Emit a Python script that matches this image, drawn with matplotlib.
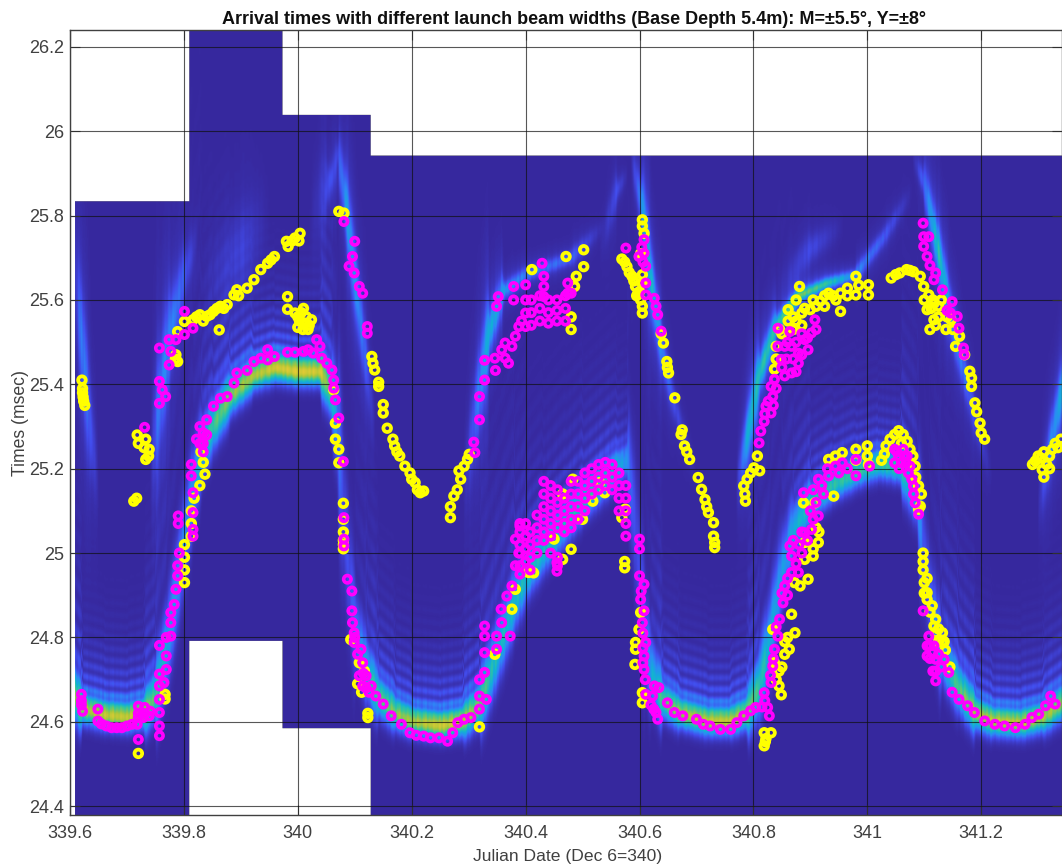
import numpy as np
import matplotlib
matplotlib.use("Agg")
import matplotlib.pyplot as plt
from matplotlib.colors import LinearSegmentedColormap

plt.rcParams['font.family'] = ['Liberation Sans', 'DejaVu Sans']

x_ticks = [339.6, 339.8, 340, 340.2, 340.4, 340.6, 340.8, 341, 341.2]
x_labels = ['339.6', '339.8', '340', '340.2', '340.4', '340.6', '340.8', '341', '341.2']
y_ticks = [24.4, 24.6, 24.8, 25, 25.2, 25.4, 25.6, 25.8, 26, 26.2]
y_labels = ['24.4', '24.6', '24.8', '25', '25.2', '25.4', '25.6', '25.8', '26', '26.2']

# data blocks of the image: start, end, lowest and highest time
block_x0 = [339.608, 339.808, 339.973, 340.127]
block_x1 = [339.808, 339.973, 340.127, 341.36]
block_lo = [24.30, 24.792, 24.583, 24.30]
block_hi = [25.835, 26.30, 26.04, 25.943]

# main arrival band
band_x = [339.60, 339.62, 339.66, 339.70, 339.73, 339.75, 339.77, 339.785, 339.80, 339.815,
          339.83, 339.85, 339.88, 339.92, 339.96, 340.00, 340.04, 340.06, 340.07, 340.08,
          340.09, 340.10, 340.12, 340.14, 340.17, 340.20, 340.25, 340.29, 340.32, 340.34,
          340.36, 340.38, 340.40, 340.43, 340.47, 340.50, 340.53, 340.56, 340.58, 340.59,
          340.60, 340.61, 340.62, 340.64, 340.67, 340.72, 340.76, 340.79, 340.81, 340.83,
          340.85, 340.87, 340.90, 340.94, 340.98, 341.02, 341.06, 341.09, 341.10, 341.11,
          341.13, 341.16, 341.19, 341.22, 341.27, 341.31, 341.35]
band_y = [24.68, 24.63, 24.615, 24.61, 24.62, 24.66, 24.78, 24.90, 25.03, 25.15,
          25.24, 25.30, 25.37, 25.42, 25.44, 25.43, 25.43, 25.38, 25.30, 25.10,
          24.95, 24.82, 24.72, 24.66, 24.62, 24.60, 24.59, 24.60, 24.64, 24.72,
          24.80, 24.88, 24.94, 25.00, 25.07, 25.12, 25.16, 25.20, 25.22, 25.10,
          24.95, 24.80, 24.72, 24.65, 24.62, 24.60, 24.60, 24.62, 24.68, 24.80,
          24.95, 25.05, 25.12, 25.16, 25.19, 25.21, 25.20, 25.12, 25.00, 24.90,
          24.76, 24.68, 24.62, 24.60, 24.595, 24.61, 24.65]
band_a = [0.55, 0.62, 0.66, 0.66, 0.64, 0.50, 0.34, 0.30, 0.25, 0.30,
          0.42, 0.50, 0.58, 0.62, 0.68, 0.70, 0.68, 0.50, 0.22, 0.12,
          0.12, 0.20, 0.40, 0.52, 0.58, 0.62, 0.68, 0.66, 0.56, 0.44,
          0.40, 0.40, 0.42, 0.42, 0.42, 0.44, 0.46, 0.40, 0.26, 0.12,
          0.12, 0.18, 0.34, 0.52, 0.62, 0.66, 0.66, 0.60, 0.48, 0.36,
          0.30, 0.36, 0.44, 0.46, 0.48, 0.48, 0.46, 0.30, 0.14, 0.16,
          0.36, 0.52, 0.62, 0.66, 0.66, 0.62, 0.58]

# fainter streaks above the main band: x, time, strength, width in pixels
streaks = [
    ([339.605, 339.62, 339.635, 339.65], [25.70, 25.50, 25.30, 25.15], [0.0, 0.20, 0.12, 0.0], 5),
    ([339.74, 339.755, 339.775, 339.80, 339.825], [25.20, 25.35, 25.52, 25.66, 25.75], [0.0, 0.18, 0.20, 0.12, 0.0], 7),
    ([339.83, 339.90, 339.95], [25.62, 25.72, 25.80], [0.0, 0.07, 0.0], 24),
    ([340.04, 340.07, 340.085, 340.10, 340.115, 340.135], [25.80, 25.95, 25.82, 25.65, 25.50, 25.30], [0.0, 0.08, 0.26, 0.24, 0.16, 0.0], 4),
    ([340.02, 340.05, 340.08], [25.78, 25.88, 25.90], [0.0, 0.07, 0.0], 14),
    ([340.29, 340.32, 340.335, 340.36, 340.40, 340.48, 340.54], [25.15, 25.40, 25.52, 25.62, 25.66, 25.70, 25.78], [0.0, 0.20, 0.30, 0.24, 0.18, 0.14, 0.0], 6),
    ([340.53, 340.56, 340.58], [25.72, 25.86, 25.90], [0.0, 0.10, 0.0], 5),
    ([340.585, 340.605, 340.62, 340.64, 340.66, 340.70], [25.94, 25.82, 25.65, 25.48, 25.36, 25.18], [0.0, 0.24, 0.34, 0.20, 0.10, 0.0], 4),
    ([340.77, 340.79, 340.81, 340.84, 340.88, 340.93, 340.98, 341.03, 341.08], [25.15, 25.28, 25.42, 25.54, 25.61, 25.64, 25.66, 25.75, 25.86], [0.0, 0.30, 0.36, 0.36, 0.46, 0.38, 0.20, 0.12, 0.0], 5),
    ([340.84, 340.90, 340.96], [25.62, 25.72, 25.78], [0.0, 0.09, 0.0], 10),
    ([341.08, 341.10, 341.125, 341.145, 341.165, 341.19, 341.22], [25.94, 25.88, 25.72, 25.58, 25.46, 25.32, 25.18], [0.0, 0.14, 0.36, 0.26, 0.18, 0.10, 0.0], 4.5),
    ([341.30, 341.32, 341.345, 341.36], [25.10, 25.24, 25.40, 25.50], [0.0, 0.18, 0.30, 0.30], 5),
]

# slight column to column variation of the image
column_shade = [1.0, 0.92, 1.06, 0.88, 1.1, 0.97, 0.85, 1.04, 1.12, 0.9, 1.0, 0.94, 1.08]

yellow_pts = [
    (339.621, 25.41), (339.622, 25.39), (339.622, 25.38), (339.623, 25.37), (339.624, 25.36), (339.626, 25.35),
    (339.718, 25.28), (339.72, 25.26), (339.73, 25.25), (339.733, 25.27), (339.739, 25.246), (339.738, 25.23), (339.733, 25.222),
    (339.712, 25.123), (339.717, 25.13), (339.801, 25.549), (339.789, 25.525), (339.789, 25.454), (339.785, 25.46),
    (339.816, 25.553), (339.822, 25.56), (339.828, 25.565), (339.834, 25.55), (339.84, 25.561), (339.846, 25.565), (339.852, 25.573),
    (339.858, 25.58), (339.864, 25.585), (339.87, 25.58), (339.876, 25.589), (339.888, 25.612), (339.893, 25.624), (339.896, 25.61),
    (339.911, 25.628), (339.923, 25.648), (339.935, 25.672), (339.947, 25.687), (339.953, 25.695), (339.959, 25.703),
    (339.98, 25.739), (339.983, 25.727), (339.99, 25.74), (339.995, 25.747), (340.004, 25.758), (340.002, 25.74), (339.862, 25.529),
    (339.982, 25.608), (339.982, 25.578), (339.995, 25.569), (340.006, 25.57), (340.012, 25.545), (340.018, 25.53), (340.009, 25.53),
    (340.024, 25.553), (340.003, 25.55), (340.015, 25.56), (340.072, 25.81), (340.081, 25.806),
    (340.063, 25.387), (340.066, 25.308), (340.066, 25.27), (340.072, 25.246), (340.072, 25.214), (340.08, 25.118),
    (340.08, 25.08), (340.08, 25.05), (340.08, 25.03), (340.08, 25.02), (340.08, 25.01), (340.093, 24.795),
    (340.108, 24.74), (340.105, 24.69), (340.123, 24.62), (340.123, 24.61), (340.117, 24.72), (340.112, 24.67),
    (340.13, 25.466), (340.132, 25.45), (340.135, 25.434), (340.142, 25.405), (340.142, 25.395), (340.15, 25.352), (340.15, 25.332), (340.157, 25.296),
    (340.167, 25.27), (340.17, 25.254), (340.174, 25.24), (340.179, 25.23), (340.188, 25.206), (340.197, 25.19), (340.2, 25.175),
    (340.206, 25.167), (340.21, 25.15), (340.215, 25.143), (340.221, 25.147),
    (340.268, 25.084), (340.268, 25.11), (340.274, 25.135), (340.28, 25.15), (340.286, 25.175), (340.283, 25.195), (340.292, 25.206),
    (340.298, 25.222), (340.301, 25.234), (339.813, 25.1), (339.813, 25.07), (339.813, 25.04), (339.801, 25.02), (339.801, 24.99),
    (339.801, 24.96), (339.801, 24.93), (339.837, 25.187), (339.828, 25.16), (339.834, 25.215), (339.818, 25.13), (339.83, 25.24),
    (339.767, 24.654), (339.767, 24.665), (340.319, 24.588), (340.346, 24.76), (339.72, 24.525), (340.376, 24.867), (340.382, 24.914), (340.405, 24.954),
    (340.411, 25.672), (340.48, 25.56), (340.48, 25.53), (340.471, 25.703), (340.502, 25.719), (340.502, 25.679), (340.489, 25.656), (340.486, 25.632),
    (340.569, 25.697), (340.574, 25.69), (340.578, 25.679), (340.582, 25.665), (340.587, 25.656), (340.593, 25.632), (340.597, 25.615), (340.602, 25.6),
    (340.605, 25.569), (340.605, 25.585), (340.605, 25.79), (340.605, 25.775), (340.608, 25.758), (340.602, 25.71), (340.605, 25.66),
    (340.638, 25.52), (340.642, 25.498), (340.648, 25.454), (340.649, 25.44), (340.651, 25.427), (340.662, 25.368), (340.675, 25.292),
    (340.673, 25.281), (340.679, 25.254), (340.683, 25.24), (340.688, 25.222), (340.703, 25.179), (340.709, 25.151), (340.715, 25.127),
    (340.718, 25.11), (340.721, 25.096), (340.73, 25.072), (340.73, 25.04), (340.732, 25.013), (340.732, 25.025),
    (340.786, 25.123), (340.783, 25.159), (340.789, 25.175), (340.785, 25.14), (340.801, 25.202), (340.807, 25.23), (340.811, 25.195), (340.795, 25.19),
    (340.84, 25.49), (340.846, 25.53), (340.861, 25.577), (340.885, 25.569), (340.885, 25.54), (340.9, 25.577), (340.917, 25.597), (340.932, 25.616),
    (340.953, 25.616), (340.953, 25.573), (340.965, 25.628), (340.98, 25.656), (340.98, 25.612), (341.002, 25.636), (341.002, 25.612), (340.881, 25.632),
    (340.861, 25.55), (340.87, 25.53), (340.837, 25.436), (340.84, 25.46), (340.91, 25.585), (340.925, 25.61), (340.94, 25.61), (340.875, 25.55),
    (341.042, 25.652), (341.05, 25.66), (341.057, 25.664), (341.069, 25.672), (341.075, 25.67), (341.081, 25.667), (341.093, 25.656), (341.099, 25.632),
    (341.108, 25.612), (341.117, 25.592), (341.105, 25.577), (341.117, 25.553), (341.112, 25.58), (341.125, 25.585), (341.138, 25.53), (341.147, 25.553), (341.162, 25.514),
    (341.171, 25.47), (341.18, 25.431), (341.183, 25.415), (341.183, 25.395), (341.189, 25.356), (341.192, 25.335), (341.198, 25.308), (341.2, 25.285), (341.206, 25.27),
    (341.295, 25.218), (341.307, 25.198), (341.305, 25.225), (341.32, 25.23), (341.325, 25.246), (341.315, 25.21), (341.3, 25.23), (341.33, 25.26),
    (341.048, 25.281), (341.063, 25.281), (341.055, 25.29), (341.075, 25.246), (341.084, 25.206), (341.09, 25.159), (341.093, 25.111), (341.033, 25.254), (341.04, 25.27),
    (340.932, 25.222), (340.944, 25.23), (340.956, 25.238), (340.98, 25.246), (341.0, 25.254), (341.0, 25.23), (340.98, 25.22), (341.002, 25.21),
    (340.888, 25.119), (340.908, 25.119), (340.941, 25.135), (340.905, 24.993), (340.896, 24.938), (340.882, 24.922), (340.867, 24.855),
    (340.873, 24.811), (340.863, 24.772), (340.855, 24.76), (340.845, 24.685), (340.849, 24.664), (340.837, 24.74), (340.834, 24.819), (340.89, 25.025), (340.914, 25.025),
    (340.905, 25.01), (340.819, 24.574), (340.831, 24.574), (340.819, 24.543), (340.822, 24.56), (340.821, 24.553),
    (341.098, 25.0), (341.098, 24.98), (341.098, 24.96), (341.1, 24.93), (341.105, 24.906), (341.114, 24.875), (341.12, 24.843), (341.132, 24.811), (341.132, 24.788),
    (341.117, 24.827), (341.137, 24.77), (341.145, 24.73), (340.602, 24.859), (340.599, 24.819), (340.593, 24.788), (340.593, 24.772), (340.592, 24.736),
    (340.605, 24.669), (340.605, 24.645), (340.574, 24.98), (340.574, 24.965), (340.45, 25.033), (340.48, 25.009), (340.465, 24.985), (340.414, 24.953),
    (340.518, 25.123), (340.539, 25.143), (340.5, 25.08), (340.569, 25.084), (340.575, 25.104), (340.53, 25.167), (340.483, 25.175), (340.465, 25.14), (341.09, 25.104),
    # fill of the dense parts
    (339.786, 25.47), (340.0, 25.56), (340.01, 25.58), (340.02, 25.54), (340.0, 25.535), (340.59, 25.645), (340.595, 25.61), (340.6, 25.62), (340.605, 25.64),
    (340.85, 25.52), (340.87, 25.56), (340.89, 25.58), (340.905, 25.6), (340.925, 25.585), (340.945, 25.6), (340.965, 25.61), (340.985, 25.635), (340.875, 25.6),
    (341.115, 25.6), (341.125, 25.56), (341.11, 25.53), (341.12, 25.54), (341.13, 25.6), (341.14, 25.56), (341.15, 25.53), (341.1, 25.6), (341.155, 25.49),
    (341.06, 25.26), (341.07, 25.265), (341.08, 25.23), (341.085, 25.18), (341.095, 25.14), (341.03, 25.235), (341.025, 25.22),
    (341.105, 24.89), (341.11, 24.86), (341.125, 24.82), (341.12, 24.81), (341.125, 24.79), (341.105, 24.94), (341.1, 24.905), (341.135, 24.79),
    (340.872, 24.93), (340.86, 24.8), (340.855, 24.79), (340.845, 24.72), (340.84, 24.7), (340.85, 24.73), (340.89, 24.985), (340.91, 25.06), (340.915, 25.05),
    (341.31, 25.18), (341.29, 25.21), (341.31, 25.24), (341.32, 25.2), (341.335, 25.25), (341.34, 25.27),
]

magenta_pts = [
    (339.62, 24.665), (339.62, 24.65), (339.62, 24.64), (339.622, 24.625), (339.649, 24.63), (339.649, 24.602), (339.655, 24.595), (339.664, 24.59),
    (339.673, 24.586), (339.682, 24.586), (339.691, 24.586), (339.7, 24.59), (339.709, 24.594), (339.718, 24.594), (339.72, 24.558), (339.72, 24.637),
    (339.72, 24.62), (339.72, 24.61), (339.729, 24.62), (339.739, 24.614), (339.729, 24.61), (339.741, 24.625), (339.731, 24.634),
    (339.757, 24.567), (339.757, 24.59), (339.757, 24.622), (339.757, 24.653), (339.757, 24.685), (339.757, 24.713), (339.757, 24.781), (339.765, 24.693),
    (339.769, 24.724), (339.769, 24.756), (339.769, 24.8), (339.777, 24.803), (339.777, 24.835), (339.777, 24.859), (339.783, 24.878), (339.786, 24.914),
    (339.789, 24.946), (339.789, 24.97), (339.792, 25.0), (339.79, 25.088), (339.79, 25.07), (339.816, 25.096), (339.816, 25.056), (339.816, 25.04), (339.816, 25.143),
    (339.813, 25.183), (339.813, 25.21), (339.834, 25.285), (339.834, 25.26), (339.834, 25.24), (339.828, 25.26), (339.84, 25.28), (339.822, 25.27),
    (339.731, 25.298), (339.757, 25.407), (339.762, 25.387), (339.768, 25.371), (339.757, 25.355), (339.757, 25.486), (339.777, 25.478), (339.774, 25.506),
    (339.786, 25.506), (339.774, 25.446), (339.801, 25.573), (339.816, 25.533), (339.801, 25.518),
    (339.828, 25.3), (339.84, 25.316), (339.852, 25.348), (339.864, 25.367), (339.876, 25.371), (339.888, 25.403), (339.893, 25.427), (339.911, 25.433),
    (339.923, 25.454), (339.935, 25.462), (339.947, 25.482), (339.947, 25.458), (339.959, 25.466), (339.982, 25.476), (339.995, 25.476), (340.01, 25.478),
    (340.018, 25.482), (340.027, 25.474), (340.033, 25.506), (340.039, 25.49), (340.042, 25.462), (340.051, 25.45), (340.06, 25.434), (340.063, 25.41),
    (340.063, 25.391), (340.066, 25.363), (340.072, 25.32), (340.08, 25.217), (340.081, 25.084), (340.081, 25.033), (340.081, 25.017),
    (340.087, 24.938), (340.095, 24.91), (340.095, 24.863), (340.096, 24.835), (340.099, 24.811), (340.099, 24.788), (340.111, 24.772), (340.114, 24.74),
    (340.108, 24.709), (340.12, 24.709), (340.114, 24.685), (340.129, 24.685), (340.137, 24.661), (340.15, 24.642), (340.164, 24.614), (340.182, 24.594),
    (340.197, 24.574), (340.208, 24.568), (340.221, 24.566), (340.233, 24.562), (340.248, 24.562), (340.263, 24.554), (340.272, 24.574), (340.281, 24.598),
    (340.292, 24.606), (340.304, 24.61), (340.319, 24.63), (340.319, 24.661), (340.319, 24.7), (340.328, 24.717), (340.331, 24.653), (340.328, 24.764),
    (340.328, 24.803), (340.328, 24.827), (340.349, 24.772), (340.349, 24.803), (340.358, 24.835), (340.357, 24.867), (340.367, 24.898), (340.373, 24.803),
    (340.376, 24.922), (340.382, 24.97), (340.388, 25.0), (340.382, 25.033), (340.39, 25.064),
    (340.081, 25.786), (340.1, 25.739), (340.096, 25.703), (340.09, 25.68), (340.099, 25.664), (340.108, 25.632), (340.114, 25.616), (340.122, 25.537), (340.122, 25.521),
    (340.309, 25.263), (340.311, 25.238), (340.319, 25.371), (340.319, 25.316), (340.328, 25.41), (340.328, 25.457), (340.347, 25.433), (340.352, 25.608), (340.349, 25.585),
    (340.379, 25.632), (340.4, 25.636), (340.379, 25.6), (340.4, 25.6), (340.4, 25.569), (340.4, 25.537), (340.358, 25.482), (340.346, 25.462), (340.364, 25.498),
    (340.37, 25.45), (340.376, 25.49), (340.382, 25.514), (340.388, 25.537), (340.364, 25.462), (340.393, 25.55),
    (340.41, 25.6), (340.41, 25.57), (340.41, 25.54), (340.425, 25.61), (340.425, 25.58), (340.425, 25.55), (340.44, 25.6), (340.44, 25.57), (340.44, 25.545),
    (340.455, 25.6), (340.455, 25.575), (340.455, 25.55), (340.47, 25.61), (340.47, 25.58), (340.47, 25.55),
    (340.429, 25.687), (340.432, 25.656), (340.432, 25.632), (340.432, 25.608), (340.474, 25.64), (340.474, 25.616), (340.48, 25.616),
    (340.39, 25.07), (340.39, 25.05), (340.39, 25.02), (340.39, 25.0), (340.39, 24.97), (340.39, 24.95), (340.4, 25.07), (340.4, 25.04), (340.4, 25.01), (340.4, 24.98),
    (340.408, 25.05), (340.408, 25.02), (340.408, 24.99), (340.408, 24.96), (340.42, 25.09), (340.42, 25.06), (340.42, 25.03), (340.42, 25.0),
    (340.432, 25.17), (340.432, 25.14), (340.432, 25.11), (340.432, 25.08), (340.432, 25.05), (340.432, 25.03), (340.444, 25.16), (340.444, 25.13),
    (340.444, 25.1), (340.444, 25.07), (340.444, 25.04), (340.444, 25.0), (340.456, 25.15), (340.456, 25.12), (340.456, 25.09), (340.456, 25.06),
    (340.456, 24.99), (340.456, 24.97), (340.468, 25.13), (340.468, 25.1), (340.468, 25.07), (340.468, 25.05), (340.48, 25.17), (340.48, 25.14),
    (340.48, 25.11), (340.48, 25.08), (340.48, 25.06), (340.492, 25.17), (340.492, 25.14), (340.492, 25.11), (340.492, 25.08), (340.504, 25.19),
    (340.504, 25.16), (340.504, 25.13), (340.504, 25.1), (340.516, 25.2), (340.516, 25.17), (340.516, 25.14), (340.528, 25.21), (340.528, 25.18),
    (340.528, 25.15), (340.54, 25.215), (340.54, 25.19), (340.54, 25.16), (340.552, 25.21), (340.552, 25.18), (340.552, 25.15), (340.564, 25.19),
    (340.564, 25.16), (340.564, 25.13), (340.564, 25.1), (340.576, 25.16), (340.576, 25.13), (340.576, 25.1), (340.576, 25.07), (340.576, 25.04),
    (340.576, 25.723), (340.599, 25.703), (340.608, 25.743), (340.608, 25.711), (340.611, 25.68), (340.611, 25.64), (340.611, 25.612), (340.626, 25.604),
    (340.629, 25.585), (340.632, 25.565), (340.638, 25.526), (340.604, 25.725), (340.606, 25.69),
    (340.837, 25.412), (340.843, 25.533), (340.843, 25.49), (340.849, 25.459), (340.864, 25.525), (340.867, 25.49), (340.867, 25.427), (340.879, 25.474),
    (340.879, 25.45), (340.89, 25.506), (340.896, 25.482), (340.902, 25.522), (340.908, 25.553), (340.855, 25.49), (340.858, 25.46), (340.885, 25.52), (340.87, 25.46),
    (340.831, 25.395), (340.834, 25.371), (340.822, 25.348), (340.831, 25.332), (340.819, 25.312), (340.813, 25.289), (340.81, 25.261), (340.826, 25.36),
    (341.098, 25.782), (341.099, 25.75), (341.108, 25.75), (341.099, 25.727), (341.105, 25.703), (341.11, 25.682), (341.12, 25.664), (341.117, 25.648),
    (341.132, 25.624), (341.149, 25.596), (341.146, 25.569), (341.158, 25.561), (341.161, 25.533), (341.169, 25.486), (341.17, 25.47), (341.14, 25.575),
    (340.455, 24.977), (340.455, 24.957), (340.6, 25.033), (340.6, 24.946), (340.608, 24.926), (340.602, 24.89), (340.608, 24.863), (340.605, 24.835),
    (340.611, 24.788), (340.608, 24.756), (340.608, 24.724), (340.611, 24.665), (340.61, 24.7), (340.626, 24.685), (340.634, 24.681), (340.623, 24.661),
    (340.629, 24.622), (340.632, 24.606), (340.649, 24.645), (340.661, 24.622), (340.676, 24.614), (340.7, 24.606), (340.712, 24.594), (340.724, 24.59),
    (340.742, 24.582), (340.76, 24.582), (340.771, 24.598), (340.783, 24.614), (340.795, 24.626), (340.804, 24.634), (340.825, 24.634), (340.828, 24.614),
    (340.819, 24.669), (340.831, 24.693), (340.834, 24.732), (340.837, 24.772), (340.843, 24.803), (340.846, 24.843), (340.852, 24.882), (340.855, 24.922),
    (340.867, 24.954), (340.879, 24.954), (340.867, 24.993), (340.864, 25.017), (340.885, 25.0), (340.89, 25.048), (340.902, 25.056), (340.914, 25.088),
    (340.923, 25.14), (340.914, 25.175), (340.932, 25.183), (340.944, 25.206), (340.956, 25.214), (340.98, 25.222), (340.98, 25.183), (341.004, 25.206),
    (340.888, 25.143), (340.9, 25.1), (340.885, 25.05), (340.87, 25.03), (340.905, 25.15),
    (341.048, 25.246), (341.063, 25.246), (341.048, 25.214), (341.06, 25.214), (341.068, 25.214), (341.075, 25.206), (341.081, 25.159), (341.084, 25.119),
    (341.09, 25.092), (341.081, 25.14), (341.055, 25.23), (341.098, 24.863), (341.108, 24.803), (341.105, 24.78), (341.105, 24.756), (341.117, 24.78),
    (341.12, 24.748), (341.12, 24.697), (341.12, 24.72), (341.135, 24.748), (341.143, 24.717), (341.149, 24.67), (341.161, 24.653), (341.176, 24.638), (341.188, 24.622),
    (341.206, 24.602), (341.224, 24.594), (341.241, 24.59), (341.26, 24.586), (341.277, 24.594), (341.289, 24.61), (341.301, 24.618), (341.313, 24.638),
    (341.322, 24.661), (341.33, 24.642),
    # fill of the dense parts
    (340.85, 25.44), (340.86, 25.5), (340.875, 25.5), (340.885, 25.47), (340.855, 25.42), (340.875, 25.43), (340.895, 25.51), (340.91, 25.53),
    (340.84, 25.39), (340.82, 25.33), (340.835, 25.35),
    (340.6, 25.01), (340.603, 24.91), (340.606, 24.81), (340.606, 24.775), (340.606, 24.74), (340.62, 24.64), (340.625, 24.63),
    (340.86, 24.9), (340.86, 24.94), (340.875, 24.975), (340.85, 24.905), (340.84, 24.825), (340.835, 24.75), (340.83, 24.71), (340.82, 24.65), (340.815, 24.635),
    (340.88, 25.02), (340.895, 25.03), (340.905, 25.08), (340.91, 25.12), (340.92, 25.16), (340.93, 25.2), (340.95, 25.19), (340.965, 25.2),
    (340.1, 24.8), (340.105, 24.76), (340.115, 24.715), (340.125, 24.67), (340.12, 24.68),
    (341.11, 24.78), (341.11, 24.75), (341.115, 24.765), (341.125, 24.76), (341.13, 24.73), (341.115, 24.72),
    (341.052, 25.24), (341.056, 25.2), (341.065, 25.23), (341.072, 25.19), (341.07, 25.23), (341.078, 25.175),
]

parula = LinearSegmentedColormap.from_list('parula', [
    (0.215, 0.16, 0.62), (0.26, 0.30, 0.93), (0.18, 0.53, 0.97), (0.07, 0.69, 0.84),
    (0.22, 0.78, 0.59), (0.67, 0.78, 0.22), (0.98, 0.80, 0.20), (0.96, 0.88, 0.12), (0.98, 0.98, 0.08)])

PX_X = 569.5  # pixels per day
PX_Y = 422.0  # pixels per msec


def perp_dist(xs, ys, xg, Yg):
    c = np.interp(xg, xs, ys)
    slope = np.gradient(c, xg) * PX_Y / PX_X
    return (Yg - c) * PX_Y / np.sqrt(1 + slope ** 2), slope


def band_layer(xg, Yg):
    d, slope = perp_dist(band_x, band_y, xg, Yg)
    a = np.interp(xg, band_x, band_a)
    flat = 1 / (1 + (slope / 3.0) ** 2)
    w = 5 + 8 * flat
    core = np.exp(-(d / w) ** 2)
    env = (1 - np.exp(-(d / 14.0) ** 2)) * np.exp(-d / 30.0) * (d > 0) * flat
    fringe = 0.5 + 0.5 * np.cos(2 * np.pi * (d - 21) / 11.5)
    return a * (core + 0.6 * env * (0.3 + 0.7 * fringe))


def streak_layer(xs, ys, amps, width, xg, Yg):
    d, slope = perp_dist(xs, ys, xg, Yg)
    a = np.interp(xg, xs, amps, left=0, right=0)
    return a * (np.exp(-(d / width) ** 2) + 0.25 * np.exp(-(d / (width * 2.5)) ** 2))


xg = np.linspace(339.60, 341.36, 1000)
yg = np.linspace(24.30, 26.30, 850)
Xg, Yg = np.meshgrid(xg, yg)

Z = band_layer(xg, Yg)
for xs, ys, amps, width in streaks:
    Z = Z + streak_layer(xs, ys, amps, width, xg, Yg)
shade = np.array(column_shade)[np.arange(len(xg)) // 2 % len(column_shade)]
Z = Z * (1 + (shade - 1) * np.clip(1.3 - 1.5 * Z, 0, 1))

inside = np.zeros(Z.shape, dtype=bool)
for x0, x1, lo, hi in zip(block_x0, block_x1, block_lo, block_hi):
    inside |= (Xg >= x0) & (Xg < x1) & (Yg >= lo) & (Yg <= hi)
Z = np.where(inside, Z, np.nan)

fig = plt.figure(figsize=(10.62, 8.67), dpi=100)
ax = fig.add_axes([70 / 1062, (867 - 815) / 867, 992 / 1062, 785 / 867])

ax.imshow(Z, extent=[xg[0], xg[-1], yg[0], yg[-1]], origin='lower', aspect='auto',
          cmap=parula, vmin=0, vmax=1, interpolation='bilinear', zorder=1)

yellow = np.array(yellow_pts)
magenta = np.array(magenta_pts)
ax.scatter(yellow[:, 0], yellow[:, 1], s=30, facecolors='none', edgecolors='#ffff00', linewidths=2.7, zorder=3)
ax.scatter(magenta[:, 0], magenta[:, 1], s=28, facecolors='none', edgecolors='#ff00ff', linewidths=2.6, zorder=4)

ax.set_xlim(339.6, 339.6 + 992 / PX_X)
ax.set_ylim(24.379, 26.24)
ax.set_xticks(x_ticks)
ax.set_xticklabels(x_labels)
ax.set_yticks(y_ticks)
ax.set_yticklabels(y_labels)
ax.grid(True, color='#101010', linewidth=0.8, alpha=0.7)
ax.set_axisbelow('line')
ax.tick_params(axis='both', direction='in', top=True, right=True, length=7, width=0.8,
               color='#303030', labelcolor='#404040', labelsize=13, pad=7)
ax.tick_params(axis='y', pad=4)
for spine in ax.spines.values():
    spine.set_color('#404040')
    spine.set_linewidth(1.0)

ax.set_title('Arrival times with different launch beam widths (Base Depth 5.4m): M=±5.5°, Y=±8°',
             fontsize=13, fontweight='bold', color='#101010', x=(574 - 70) / 992, pad=4)
ax.set_xlabel('Julian Date (Dec 6=340)', fontsize=12.6, color='#404040', x=(568 - 70) / 992, labelpad=5)
ax.set_ylabel('Times (msec)', fontsize=12.7, color='#404040', labelpad=0)

fig.savefig('out.png', dpi=100)
